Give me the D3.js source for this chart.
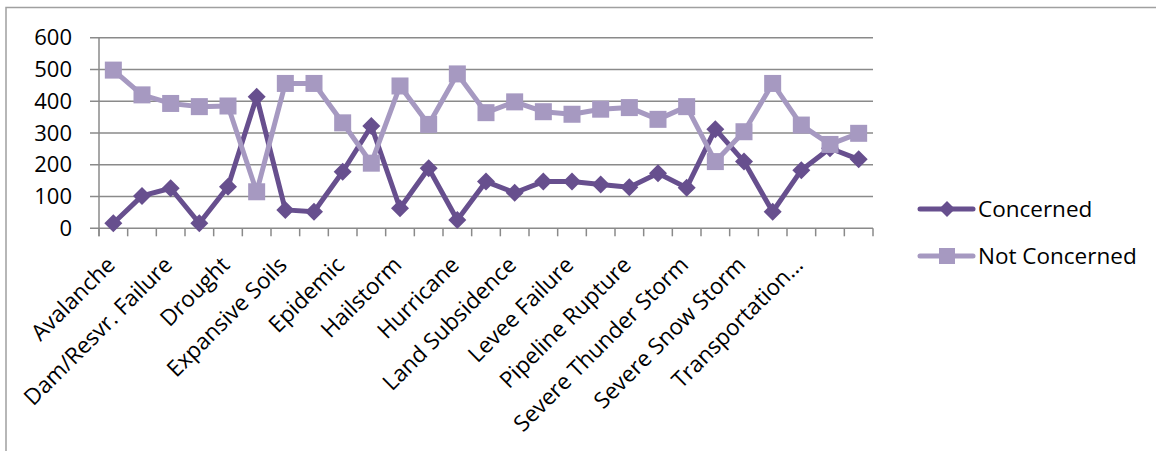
<!DOCTYPE html>
<html>
<head>
<meta charset="utf-8">
<script src="https://cdn.jsdelivr.net/npm/d3@7"></script>
<style>
  html, body { margin: 0; padding: 0; background: #fff; }
  svg { display: block; font-family: "Open Sans", "Noto Sans", sans-serif; }
</style>
</head>
<body>
<svg id="chart" width="1156" height="451"></svg>
<script>
// ---- data ----
const categories = [
  "Avalanche", "Blizzard", "Dam/Resvr. Failure", "Debris Flow", "Drought",
  "Earthquake", "Expansive Soils", "Extreme Heat", "Epidemic", "Flood",
  "Hailstorm", "Hazmat Release", "Hurricane", "Landslide", "Land Subsidence",
  "Lightning", "Levee Failure", "Nuclear Incident", "Pipeline Rupture", "Power Outage",
  "Severe Thunder Storm", "Severe Wind", "Severe Snow Storm", "Tornado", "Transportation…",
  "Wildfire", "Winter Storm"
];
// tick labels actually shown on the category axis
const tickLabels = [
  "Avalanche", "Dam/Resvr. Failure", "Drought", "Expansive Soils", "Epidemic",
  "Hailstorm", "Hurricane", "Land Subsidence", "Levee Failure", "Pipeline Rupture",
  "Severe Thunder Storm", "Severe Snow Storm", "Transportation…"
];
const concerned = [16, 102, 126, 16, 131, 414, 58, 52, 178, 322, 63, 189, 26, 147, 112,
  147, 147, 138, 129, 173, 128, 312, 210, 52, 183, 252, 217];
const notConcerned = [498, 420, 393, 383, 385, 115, 456, 456, 332, 205, 448, 327, 486, 364, 398,
  367, 359, 375, 380, 343, 383, 210, 304, 456, 325, 264, 299];
const yTicks = [0, 100, 200, 300, 400, 500, 600];
const seriesNames = ["Concerned", "Not Concerned"];
const seriesColors = ["#674f8e", "#a699c1"];

// ---- layout ----
const svg = d3.select("#chart");
const plotL = 99, plotR = 873, plotT = 37.7, plotB = 228.3;

// outer border
svg.append("rect").attr("x", 6).attr("y", 7.5).attr("width", 1160).attr("height", 460)
  .attr("fill", "none").attr("stroke", "#a0a0a0").attr("stroke-width", 1.5);

const x = d3.scaleBand().domain(categories).range([plotL, plotR]).padding(0);
const y = d3.scaleLinear().domain([0, 600]).range([plotB, plotT]);
const cx = c => x(c) + x.bandwidth() / 2;

// gridlines
svg.append("g").selectAll("line").data(yTicks).join("line")
  .attr("x1", plotL - 9).attr("x2", plotR)
  .attr("y1", d => y(d)).attr("y2", d => y(d))
  .attr("stroke", "#8a8a8a").attr("stroke-width", 1.5);

// y axis
const yAxis = svg.append("g").attr("transform", `translate(${plotL},0)`)
  .call(d3.axisLeft(y).tickValues(yTicks).tickSize(0).tickPadding(27));
yAxis.select(".domain").remove();
yAxis.selectAll("text").attr("font-size", 22).attr("fill", "#000")
  .attr("font-family", "Open Sans");
svg.append("line").attr("x1", plotL).attr("x2", plotL)
  .attr("y1", plotT).attr("y2", plotB + 8).attr("stroke", "#8a8a8a").attr("stroke-width", 1.5);

// x tick marks at category boundaries
const bounds = categories.map(c => x(c) + x.bandwidth()).concat([x(categories[0])]);
svg.append("g").selectAll("line").data(bounds).join("line")
  .attr("x1", d => d).attr("x2", d => d)
  .attr("y1", plotB).attr("y2", plotB + 8)
  .attr("stroke", "#8a8a8a").attr("stroke-width", 1.5);

// x labels
svg.append("g").selectAll("text")
  .data(tickLabels).join("text")
  .attr("transform", c => `translate(${cx(c) + 3},${plotB + 38}) rotate(-45)`)
  .attr("text-anchor", "end")
  .attr("font-size", 22.5)
  .attr("fill", "#000")
  .text(c => c);

// lines
const series = [concerned, notConcerned];
const line = d3.line().x((d, i) => cx(categories[i])).y(d => y(d));

function diamond(g, px, py, r, color) {
  g.append("path").attr("d", `M${px},${py - r}L${px + r},${py}L${px},${py + r}L${px - r},${py}Z`)
    .attr("fill", color);
}
function square(g, px, py, s, color) {
  g.append("rect").attr("x", px - s / 2).attr("y", py - s / 2).attr("width", s).attr("height", s)
    .attr("fill", color);
}

series.forEach((vals, si) => {
  const g = svg.append("g");
  g.append("path").datum(vals).attr("d", line)
    .attr("fill", "none").attr("stroke", seriesColors[si]).attr("stroke-width", 5)
    .attr("stroke-linejoin", "round");
  vals.forEach((v, i) => {
    const px = cx(categories[i]), py = y(v);
    if (si === 0) diamond(g, px, py, 9, seriesColors[si]);
    else square(g, px, py, 17, seriesColors[si]);
  });
});

// legend
const legY = [209, 256];
seriesNames.forEach((name, si) => {
  const g = svg.append("g");
  g.append("line").attr("x1", 920).attr("x2", 973).attr("y1", legY[si]).attr("y2", legY[si])
    .attr("stroke", seriesColors[si]).attr("stroke-width", 5).attr("stroke-linecap", "round");
  if (si === 0) diamond(g, 947, legY[si], 8, seriesColors[si]);
  else square(g, 947, legY[si], 16, seriesColors[si]);
  g.append("text").attr("x", 978).attr("y", legY[si]).attr("dy", "0.35em")
    .attr("font-size", 22.5).attr("fill", "#000").text(name);
});
</script>
</body>
</html>
